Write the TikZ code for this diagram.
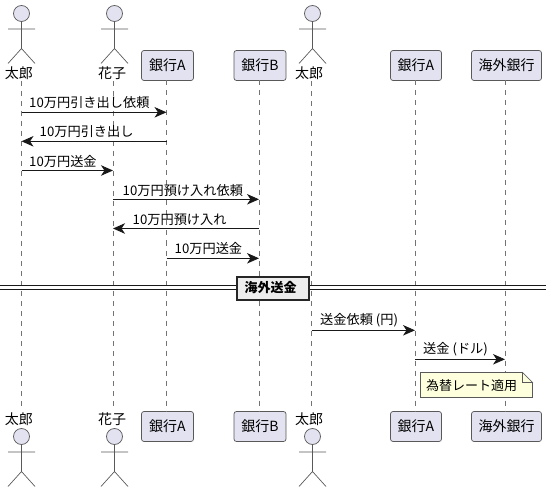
\documentclass[tikz,border=0pt]{standalone}
\usepackage{fontspec}
\setmainfont{Noto Sans CJK JP}
\usetikzlibrary{arrows.meta,positioning,calc}

\begin{document}
\begin{tikzpicture}[
  x=1pt, y=-1pt,
  part/.style={draw=black!65, rounded corners=2.5pt, fill=partfill, line width=0.7pt,
               inner sep=0pt, minimum height=30pt, font=\fontsize{14pt}{16pt}\selectfont},
  who/.style={inner sep=0pt, font=\fontsize{14pt}{16pt}\selectfont},
  life/.style={draw=black!55, line width=0.5pt, dash pattern=on 5pt off 5pt},
  msg/.style={draw=msgcol, line width=0.9pt, -{Stealth[length=12pt, width=10.5pt, inset=3.5pt]}},
  txt/.style={anchor=west, inner sep=0pt, font=\fontsize{13.2pt}{15pt}\selectfont},
  limb/.style={draw=black!65, line width=0.7pt}
]
  \definecolor{partfill}{HTML}{E2E2F0}
  \definecolor{msgcol}{HTML}{181818}
  \definecolor{notefill}{HTML}{FEFFDD}
  \useasboundingbox (0,0) rectangle (552,492);

  % participants, top row
  \node[who] (taroT) at (19,73.5) {太郎};
  \node[who] (hanaT) at (112,73.5) {花子};
  \node[part, minimum width=52pt] (bankAT) at (167.5,65.5) {銀行A};
  \node[part, minimum width=52pt] (bankBT) at (260,65.5) {銀行B};
  \node[who] (taro2T) at (309,73.5) {太郎};
  \node[part, minimum width=51pt] (bankCT) at (416,65.5) {銀行A};
  \node[part, minimum width=70pt] (kaigaiT) at (506.5,65.5) {海外銀行};

  % participants, bottom row
  \node[who] (taroB) at (19,419.5) {太郎};
  \node[who] (hanaB) at (112,419.5) {花子};
  \node[part, minimum width=52pt] (bankAB) at (167.5,426.5) {銀行A};
  \node[part, minimum width=52pt] (bankBB) at (260,426.5) {銀行B};
  \node[who] (taro2B) at (309,419.5) {太郎};
  \node[part, minimum width=51pt] (bankCB) at (416,426.5) {銀行A};
  \node[part, minimum width=70pt] (kaigaiB) at (506.5,426.5) {海外銀行};

  % stick figures
  \foreach \px/\py in {21.5/13.5,114.5/13.5,312.5/13.5,21.5/436.5,114.5/436.5,312.5/436.5}{
    \draw[limb, fill=partfill] (\px,\py) circle (8);
    \draw[limb] (\px,\py+8) -- (\px,\py+35) (\px-13.5,\py+15.5) -- (\px+13.5,\py+15.5)
      (\px-13.5,\py+50) -- (\px,\py+35) -- (\px+13.5,\py+50);
  }

  % lifelines
  \draw[life] (21.5,81) -- (21.5,410);
  \draw[life] (113,81) -- (113,410);
  \draw[life] (166.5,80.5) -- (166.5,411);
  \draw[life] (259,80.5) -- (259,411);
  \draw[life] (311.5,81) -- (311.5,410);
  \draw[life] (415,80.5) -- (415,411);
  \draw[life] (505,80.5) -- (505,411);

  \coordinate (taro) at (21.5,0);
  \coordinate (hana) at (113,0);
  \coordinate (bankA) at (166.5,0);
  \coordinate (bankB) at (259,0);
  \coordinate (taro2) at (311.5,0);
  \coordinate (bankC) at (415,0);
  \coordinate (kaigai) at (505,0);

  \coordinate (r1) at (0,112.3);
  \coordinate (r2) at (0,141.3);
  \coordinate (r3) at (0,170.5);
  \coordinate (r4) at (0,199.3);
  \coordinate (r5) at (0,228.5);
  \coordinate (r6) at (0,258.3);
  \coordinate (r7) at (0,330.3);
  \coordinate (r8) at (0,359.3);

  \draw[msg] (taro |- r1) -- (bankA |- r1);
  \draw[msg] (bankA |- r2) -- (taro |- r2);
  \draw[msg] (taro |- r3) -- (hana |- r3);
  \draw[msg] (hana |- r4) -- (bankB |- r4);
  \draw[msg] (bankB |- r5) -- (hana |- r5);
  \draw[msg] (bankA |- r6) -- (bankB |- r6);
  \draw[msg] (taro2 |- r7) -- (bankC |- r7);
  \draw[msg] (bankC |- r8) -- (kaigai |- r8);

  \node[txt] (t1) at (29,102.5) {10万円引き出し依頼};
  \node[txt] (t2) at (39.5,131.5) {10万円引き出し};
  \node[txt] (t3) at (29,161.5) {10万円送金};
  \node[txt] (t4) at (122.5,190.5) {10万円預け入れ依頼};
  \node[txt] (t5) at (132.5,219.5) {10万円預け入れ};
  \node[txt] (t6) at (174.5,248.5) {10万円送金};
  \node[txt] (t7) at (320,320.5) {送金依頼 (円)};
  \node[txt] (t8) at (423,349.5) {送金 (ドル)};

  % divider
  \coordinate (dl) at (0,287.5);
  \coordinate (dr) at (546,287.5);
  \draw[line width=1pt, black!90] ($(dl)+(0,-1.6)$) -- ($(dr)+(0,-1.6)$)
    ($(dl)+(0,1.6)$) -- ($(dr)+(0,1.6)$);
  \node[draw=black!85, line width=2pt, fill=black!7, minimum width=72pt, minimum height=23pt,
        inner sep=0pt, font=\fontsize{13pt}{15pt}\selectfont\bfseries] (sep) at (273,288) {海外送金\kern5pt};

  % note with folded corner
  \draw[draw=black!65, line width=0.6pt, fill=notefill] (420.5,372.5) -- (522.5,372.5)
    -- (532.5,382.5) -- (532.5,397.5) -- (420.5,397.5) -- cycle;
  \draw[draw=black!65, line width=0.6pt, fill=notefill] (522.5,372.5) -- (522.5,382.5) -- (532.5,382.5) -- cycle;
  \node[anchor=west, inner sep=0pt, font=\fontsize{13pt}{15pt}\selectfont] (note) at (426,385.5) {為替レート適用};
\end{tikzpicture}
\end{document}
